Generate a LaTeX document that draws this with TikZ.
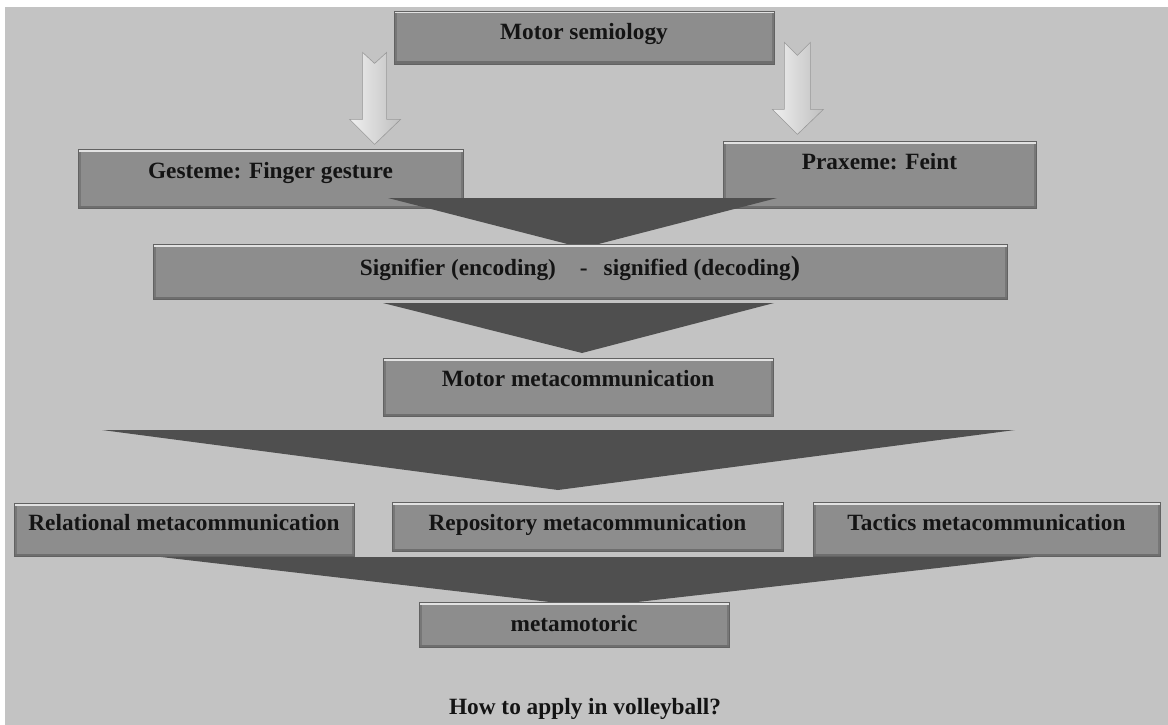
\documentclass[tikz,border=0pt]{standalone}
\usepackage{fontspec}
\setmainfont{Liberation Serif}
\usepackage{tikz}
\definecolor{paper}{RGB}{195,195,195}
\definecolor{boxfill}{RGB}{141,141,141}
\definecolor{boxline}{RGB}{98,98,98}
\definecolor{boxhi}{RGB}{226,226,226}
\definecolor{boxlo}{RGB}{110,110,110}
\definecolor{funnel}{RGB}{79,79,79}
\definecolor{ink}{RGB}{20,20,20}
\begin{document}
\begin{tikzpicture}[x=1pt,y=-1pt,
  stage/.style={draw=boxline, fill=boxfill, line width=0.8pt, inner sep=0pt,
    text=ink, font=\bfseries\fontsize{23.3}{28}\selectfont, text height=15.4pt,
    path picture={
      \fill[boxlo!70!boxfill] (path picture bounding box.south west) rectangle ([xshift=2.5pt]path picture bounding box.north west);
      \fill[boxlo!70!boxfill] (path picture bounding box.south east) rectangle ([xshift=-2.5pt]path picture bounding box.north east);
      \fill[boxhi] (path picture bounding box.north west) rectangle ([yshift=-2.5pt]path picture bounding box.north east);
      \fill[boxlo] (path picture bounding box.south west) rectangle ([yshift=2.5pt]path picture bounding box.south east);
    }},
  caption/.style={inner sep=0pt, text=ink, font=\bfseries\fontsize{23.3}{28}\selectfont, text height=15.4pt, text depth=0pt},
  wedge/.style={fill=funnel},
  hollowarrow/.style={draw=gray!80, line width=0.6pt, left color=gray!12, middle color=white, right color=gray!50}]
\useasboundingbox (0,0) rectangle (1168,725);
\fill[white] (0,0) rectangle (1168,725);
\fill[paper] (5,7) rectangle (1168,725);
\node[stage, minimum width=380pt, minimum height=53pt, text depth=11pt] (sem) at (584,37.5) {Motor semiology};
\draw[hollowarrow] ([xshift=-31pt,yshift=12pt]sem.south west) -- ++(12,11) -- ++(12,-11) -- ++(0,67) -- ++(14,0) -- ++(-26,25) -- ++(-25,-25) -- ++(13,0) -- cycle;
\draw[hollowarrow] ([xshift=10pt,yshift=22pt]sem.south east) -- ++(13,13) -- ++(13,-13) -- ++(0,67) -- ++(13,0) -- ++(-26,25) -- ++(-25,-25) -- ++(12,0) -- cycle;
\node[stage, minimum width=385pt, minimum height=59pt, text depth=15pt] (gest) at (270.5,178.5) {Gesteme: Finger gesture};
\node[stage, minimum width=313pt, minimum height=67pt, text depth=25pt] (prax) at (879.5,174.5) {Praxeme: Feint};
\fill[wedge] (388,198) -- (777,198) -- (583,248) -- cycle;
\node[stage, minimum width=854pt, minimum height=55pt, text depth=7pt] (sig) at (580,271.5) {Signifier (encoding)\hspace{24pt}-\hspace{16pt}signified (decoding{\fontsize{28}{28}\selectfont)}};
\fill[wedge] (383,303) -- (774,303) -- (582,353) -- cycle;
\node[stage, minimum width=390pt, minimum height=58pt, text depth=16pt] (meta) at (578,387) {Motor metacommunication};
\fill[wedge] (102,430) -- (1015,430) -- (558,490) -- cycle;
\node[stage, minimum width=340pt, minimum height=53pt, text depth=13pt] (rel) at (184,529.5) {Relational metacommunication};
\node[stage, minimum width=391pt, minimum height=49pt, text depth=7pt] (rep) at (587.5,526.5) {Repository metacommunication};
\node[stage, minimum width=347pt, minimum height=54pt, text depth=12pt] (tac) at (986.5,529) {Tactics metacommunication};
\fill[wedge] (161,557) -- (1035,557) -- (593,607) -- cycle;
\node[stage, minimum width=310pt, minimum height=45pt, text depth=1pt] (metam) at (574,624.5) {metamotoric};
\node[caption] (ask) at (585,707) {How to apply in volleyball?};
\end{tikzpicture}
\end{document}
